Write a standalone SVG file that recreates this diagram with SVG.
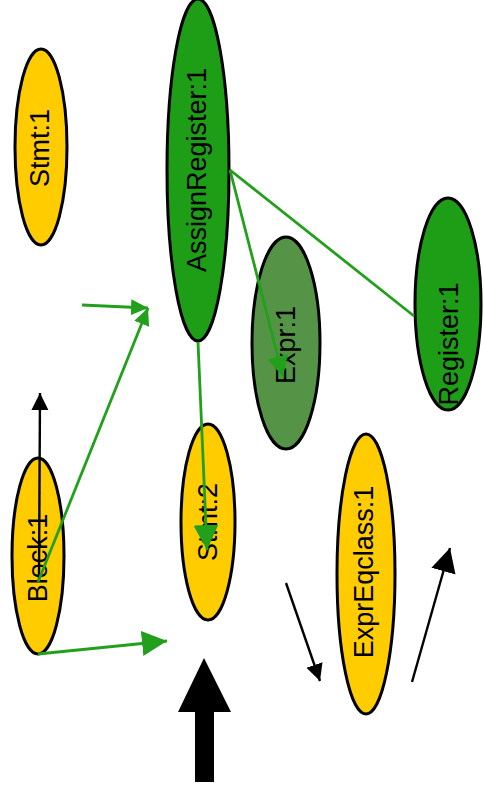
<svg xmlns="http://www.w3.org/2000/svg" width="484" height="792" viewBox="0 0 484 792">
<style>
.n ellipse{stroke:#000;stroke-width:3}
.y{fill:#ffcc00}
.g{fill:#1e9e17}
.d{fill:#559447}
.n text{font-family:"Liberation Sans",Arial,sans-serif;font-size:27px;text-anchor:middle;fill:#000}
.ge{stroke:#22a01b;stroke-width:2.8;fill:none}
.be{stroke:#000;stroke-width:2.4;fill:none}
</style>
<defs>
<marker id="gl" markerUnits="userSpaceOnUse" markerWidth="26" markerHeight="26" refX="25" refY="12.5" orient="auto" viewBox="0 0 26 26"><path d="M0,0 L25,12.5 L0,25 z" fill="#22a01b"/></marker>
<marker id="gm" markerUnits="userSpaceOnUse" markerWidth="22" markerHeight="22" refX="21" refY="10.5" orient="auto" viewBox="0 0 22 22"><path d="M0,0 L21,10.5 L0,21 z" fill="#22a01b"/></marker>
<marker id="gs" markerUnits="userSpaceOnUse" markerWidth="18" markerHeight="18" refX="17" refY="8" orient="auto" viewBox="0 0 18 18"><path d="M0,0 L17,8 L0,16 z" fill="#22a01b"/></marker>
<marker id="bs" markerUnits="userSpaceOnUse" markerWidth="18" markerHeight="18" refX="17" refY="8.5" orient="auto" viewBox="0 0 18 18"><path d="M0,0 L17,8.5 L0,17 z" fill="#000"/></marker>
<marker id="bl" markerUnits="userSpaceOnUse" markerWidth="26" markerHeight="26" refX="24" refY="12.5" orient="auto" viewBox="0 0 26 26"><path d="M0,0 L24,12.5 L0,25 z" fill="#000"/></marker>
</defs>
<g id="Stmt1" class="n"><ellipse class="y" cx="41" cy="147" rx="26" ry="98"/><text transform="translate(49,148) rotate(-90)">Stmt:1</text></g>
<g id="AssignRegister1" class="n"><ellipse class="g" cx="198" cy="170" rx="31" ry="171"/><text transform="translate(206,170) rotate(-90)">AssignRegister:1</text></g>
<g id="Expr1" class="n"><ellipse class="d" cx="286" cy="343" rx="34" ry="106"/><text transform="translate(295,345) rotate(-90)">Expr:1</text></g>
<g id="Register1" class="n"><ellipse class="g" cx="448" cy="304" rx="33" ry="106"/><text transform="translate(458,344) rotate(-90)">Register:1</text></g>
<g id="Stmt2" class="n"><ellipse class="y" cx="208" cy="522" rx="27" ry="98"/><text transform="translate(217,522) rotate(-90)">Stmt:2</text></g>
<g id="Block1" class="n"><ellipse class="y" cx="38" cy="556" rx="26" ry="98"/><text transform="translate(47,558) rotate(-90)">Block:1</text></g>
<g id="ExprEqclass1" class="n"><ellipse class="y" cx="366" cy="574" rx="29" ry="140"/><text transform="translate(373,572) rotate(-90)">ExprEqclass:1</text></g>
<g id="connectors">
<line class="be" x1="39" y1="580" x2="40" y2="393" marker-end="url(#bs)"/>
<line class="ge" x1="38" y1="582" x2="148" y2="308" marker-end="url(#gs)"/>
<line class="ge" x1="82" y1="305" x2="148" y2="308" marker-end="url(#gs)"/>
<line class="ge" x1="38" y1="654" x2="167" y2="641" marker-end="url(#gl)"/>
<line class="ge" x1="198" y1="342" x2="207" y2="550" marker-end="url(#gl)"/>
<line class="ge" x1="230" y1="170" x2="283" y2="377" marker-end="url(#gm)"/>
<line class="ge" x1="230" y1="170" x2="414" y2="316"/>
<line class="be" x1="286" y1="583" x2="320" y2="681" marker-end="url(#bs)"/>
<line class="be" x1="412" y1="682" x2="450" y2="548" marker-end="url(#bl)"/>
<polygon points="204,658 231,712 214,712 214,782 195,782 195,712 178,712" fill="#000"/>
</g>
</svg>
